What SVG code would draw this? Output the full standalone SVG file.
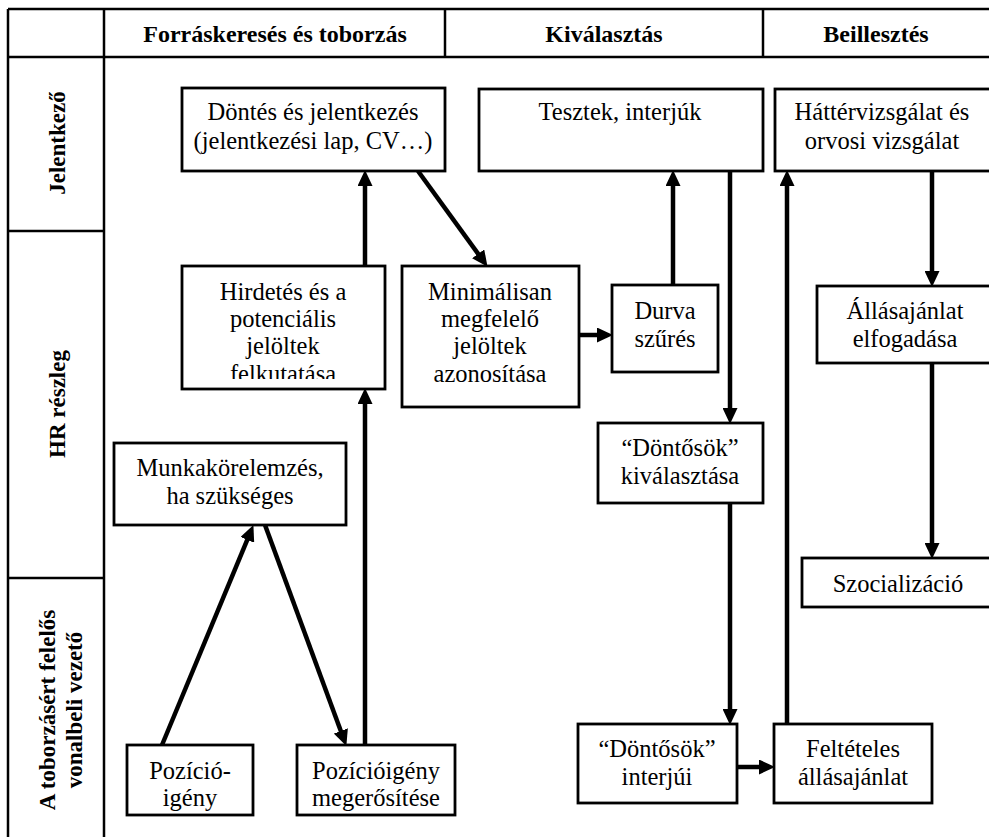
<svg xmlns="http://www.w3.org/2000/svg" width="989" height="837" viewBox="0 0 989 837">
  <style>
    .grid { stroke: #000; stroke-width: 2.5; fill: none; }
    .box { fill: #fff; stroke: #000; stroke-width: 2.8; }
    .txt { font-family: 'Liberation Serif', 'Times New Roman', Times, serif; font-size: 24.5px; fill: #000; text-anchor: middle; }
    .head { font-family: 'Liberation Serif', 'Times New Roman', Times, serif; font-size: 24px; font-weight: bold; fill: #000; text-anchor: middle; }
    .lane { font-family: 'Liberation Serif', 'Times New Roman', Times, serif; font-size: 23px; font-weight: bold; fill: #000; text-anchor: middle; }
    .edge { stroke: #000; stroke-width: 4.5; fill: none; marker-end: url(#arrow); }
  </style>
  <defs>
    <marker id="arrow" markerUnits="userSpaceOnUse" markerWidth="17" markerHeight="15" refX="4" refY="7.5" orient="auto">
      <path d="M0,0 L16,7.5 L0,15 z" fill="#000"/>
    </marker>
    <clipPath id="clipHirdetes">
      <rect x="182" y="266" width="203" height="113"/>
    </clipPath>
  </defs>

  <rect width="989" height="837" fill="#fff"/>

  <!-- table grid -->
  <g id="grid">
    <line class="grid" x1="8" y1="9" x2="989" y2="9"/>
    <line class="grid" x1="8" y1="57" x2="989" y2="57"/>
    <line class="grid" x1="8" y1="9" x2="8" y2="837"/>
    <line class="grid" x1="104" y1="9" x2="104" y2="837"/>
    <line class="grid" x1="445" y1="9" x2="445" y2="57"/>
    <line class="grid" x1="763" y1="9" x2="763" y2="57"/>
    <line class="grid" x1="8" y1="231" x2="104" y2="231"/>
    <line class="grid" x1="8" y1="578" x2="104" y2="578"/>
  </g>

  <!-- column headers -->
  <g id="headers">
    <text class="head" x="275" y="42">Forráskeresés és toborzás</text>
    <text class="head" x="604" y="42">Kiválasztás</text>
    <text class="head" x="876" y="42">Beillesztés</text>
  </g>

  <!-- lane labels -->
  <g id="lanes">
    <text class="lane" transform="translate(65,143) rotate(-90)">Jelentkező</text>
    <text class="lane" transform="translate(65,404) rotate(-90)">HR részleg</text>
    <text class="lane" transform="translate(55,710) rotate(-90)">A toborzásért felelős</text>
    <text class="lane" transform="translate(82,710) rotate(-90)">vonalbeli vezető</text>
  </g>

  <!-- connectors -->
  <g id="connectors">
    <line class="edge" x1="162" y1="745" x2="248.8" y2="536.2"/>
    <line class="edge" x1="265" y1="525" x2="342.2" y2="734.7"/>
    <line class="edge" x1="365" y1="745" x2="365" y2="400"/>
    <line class="edge" x1="365" y1="266" x2="365" y2="182"/>
    <line class="edge" x1="418" y1="171" x2="480.5" y2="257.1"/>
    <line class="edge" x1="579" y1="335" x2="601" y2="335"/>
    <line class="edge" x1="673" y1="285" x2="673" y2="182"/>
    <line class="edge" x1="730" y1="171" x2="730" y2="412"/>
    <line class="edge" x1="730" y1="503" x2="730" y2="713"/>
    <line class="edge" x1="737" y1="767" x2="763" y2="767"/>
    <line class="edge" x1="787" y1="724" x2="787" y2="182"/>
    <line class="edge" x1="932" y1="171" x2="932" y2="275"/>
    <line class="edge" x1="932" y1="363" x2="932" y2="547"/>
  </g>

  <!-- nodes -->
  <g id="dontes-jelentkezes">
    <rect class="box" x="182" y="88" width="263" height="83"/>
    <text class="txt" x="313" y="120">Döntés és jelentkezés</text>
    <text class="txt" x="313" y="149">(jelentkezési lap, CV…)</text>
  </g>
  <g id="tesztek">
    <rect class="box" x="479" y="89" width="284" height="82"/>
    <text class="txt" x="620" y="120">Tesztek, interjúk</text>
  </g>
  <g id="hattervizsgalat">
    <rect class="box" x="775" y="89" width="220" height="82"/>
    <text class="txt" x="882" y="120">Háttérvizsgálat és</text>
    <text class="txt" x="882" y="149">orvosi vizsgálat</text>
  </g>
  <g id="hirdetes">
    <rect class="box" x="182" y="266" width="203" height="123"/>
    <g clip-path="url(#clipHirdetes)">
      <text class="txt" x="283" y="300">Hirdetés és a</text>
      <text class="txt" x="283" y="327">potenciális</text>
      <text class="txt" x="283" y="354">jelöltek</text>
      <text class="txt" x="283" y="382">felkutatása</text>
    </g>
  </g>
  <g id="minimalisan">
    <rect class="box" x="402" y="266" width="177" height="141"/>
    <text class="txt" x="490" y="300">Minimálisan</text>
    <text class="txt" x="490" y="327">megfelelő</text>
    <text class="txt" x="490" y="354">jelöltek</text>
    <text class="txt" x="490" y="382">azonosítása</text>
  </g>
  <g id="durva-szures">
    <rect class="box" x="612" y="285" width="106" height="87"/>
    <text class="txt" x="665" y="319">Durva</text>
    <text class="txt" x="665" y="347">szűrés</text>
  </g>
  <g id="allasajanlat-elfogadasa">
    <rect class="box" x="817" y="286" width="180" height="77"/>
    <text class="txt" x="905" y="319">Állásajánlat</text>
    <text class="txt" x="905" y="347">elfogadása</text>
  </g>
  <g id="dontosok-kivalasztasa">
    <rect class="box" x="598" y="423" width="165" height="80"/>
    <text class="txt" x="680" y="456">“Döntősök”</text>
    <text class="txt" x="680" y="484">kiválasztása</text>
  </g>
  <g id="munkakorelemzes">
    <rect class="box" x="114" y="443" width="232" height="82"/>
    <text class="txt" x="230" y="476">Munkakörelemzés,</text>
    <text class="txt" x="230" y="504">ha szükséges</text>
  </g>
  <g id="szocializacio">
    <rect class="box" x="802" y="558" width="195" height="49"/>
    <text class="txt" x="898" y="592">Szocializáció</text>
  </g>
  <g id="pozicioigeny">
    <rect class="box" x="127" y="745" width="126" height="70"/>
    <text class="txt" x="190" y="779">Pozíció-</text>
    <text class="txt" x="190" y="806">igény</text>
  </g>
  <g id="pozicioigeny-megerositese">
    <rect class="box" x="297" y="745" width="158" height="70"/>
    <text class="txt" x="376" y="779">Pozícióigény</text>
    <text class="txt" x="376" y="806">megerősítése</text>
  </g>
  <g id="dontosok-interjui">
    <rect class="box" x="578" y="724" width="159" height="79"/>
    <text class="txt" x="657" y="757">“Döntősök”</text>
    <text class="txt" x="657" y="785">interjúi</text>
  </g>
  <g id="felteteles-allasajanlat">
    <rect class="box" x="774" y="724" width="158" height="79"/>
    <text class="txt" x="853" y="757">Feltételes</text>
    <text class="txt" x="853" y="785">állásajánlat</text>
  </g>
</svg>
